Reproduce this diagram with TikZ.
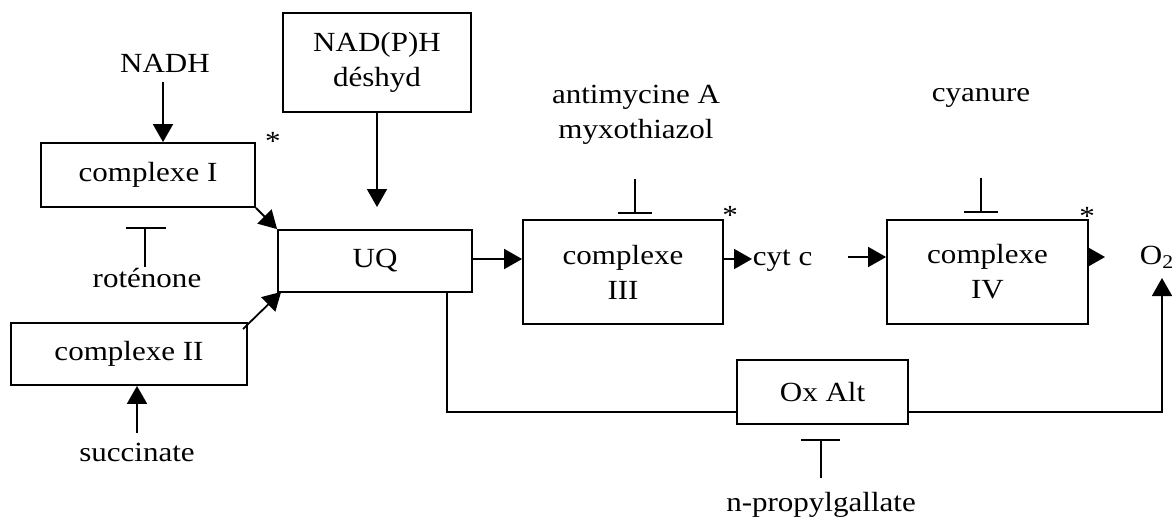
\documentclass[tikz,border=0pt]{standalone}
\usepackage{fontspec}
\setmainfont{Liberation Serif}[FakeStretch=1.12]
\usetikzlibrary{arrows.meta}
\newcommand\diagfont{\fontsize{13.85}{17.5}\selectfont}
\begin{document}
\begin{tikzpicture}[x=0.5pt,y=-0.5pt,line width=0.9pt,
  box/.style={draw,inner sep=0pt,align=center,font=\diagfont},
  lbl/.style={inner sep=0pt,align=center,font=\diagfont},
  arr/.style={-{Triangle[length=9pt,width=10pt]}},
  inhib/.style={line width=0.9pt}]
\useasboundingbox (0,0) rectangle (1176,520);
% boxes
\node[box,minimum width=94pt,minimum height=49.5pt] (nadph) at (377,62.5) {NAD(P)H\\déshyd};
\node[box,minimum width=107pt,minimum height=32pt] (c1) at (148,175) {complexe I};
\node[box,minimum width=97pt,minimum height=31pt] (uq) at (375,261) {UQ};
\node[box,minimum width=118pt,minimum height=31pt] (c2) at (129,354) {complexe II};
\node[box,minimum width=100pt,minimum height=52pt] (c3) at (623,272) {complexe\\III};
\node[box,minimum width=100.5pt,minimum height=52pt] (c4) at (987.5,272) {complexe\\IV};
\node[box,minimum width=85.5pt,minimum height=32pt] (ox) at (822.5,392) {Ox Alt};
% labels
\node[lbl] (nadh) at (165,63) {NADH};
\node[lbl] (rot) at (147,278) {roténone};
\node[lbl] (succ) at (137,452) {succinate};
\node[lbl] (anti) at (636,114.5) {antimycine A\\myxothiazol};
\node[lbl] (cyan) at (981,98) {cyanure};
\node[lbl,anchor=west] (cytc) at (752,261) {cyt c};
\node[lbl] (o2) at (1157,257) {O\textsubscript{2}};
\node[lbl] (npg) at (821,505) {n-propylgallate};
\node[lbl] (s1) at (273,141) {*};
\node[lbl] (s3) at (730,215) {*};
\node[lbl] (s4) at (1087,216) {*};
% coordinates
\coordinate (nadhA) at (163,82);
\coordinate (nadphT) at (377,207);
\coordinate (c2s) at (243,329);
\coordinate (succA) at (137,433);
\coordinate (cytA) at (848,257);
\coordinate (c4T) at (1105,257);
\coordinate (o2T) at (1162,278);
% connectors
\draw[arr] (nadhA) -- (nadhA |- c1.north);
\draw[arr] (nadph.south) -- (nadphT);
\draw[arr] (c1.south east) -- (uq.north west);
\draw[arr] (c2s) -- ([xshift=2pt,yshift=0.5pt]uq.south west);
\draw[arr] (succA) -- (succA |- c2.south);
\draw[arr] (uq.east |- 0,259) -- (c3.west |- 0,259);
\draw[arr] (c3.east |- 0,259) -- (cytc.west |- 0,259);
\draw[arr] (cytA) -- (c4.west |- cytA);
\draw[arr] (c4.east |- c4T) -- (c4T);
\draw (uq.south -| 447,0) |- (ox.west |- 0,412);
\draw[arr] (ox.east |- 0,412) -| (o2T);
% inhibitors
\draw[inhib] (126,228) -- (166,228) (145,228) -- (145,267);
\draw[inhib] (618,213) -- (652,213) (635,179) -- (635,213);
\draw[inhib] (964,212) -- (998,212) (981,178) -- (981,212);
\draw[inhib] (801,440) -- (840,440) (821,440) -- (821,478);
\end{tikzpicture}
\end{document}
